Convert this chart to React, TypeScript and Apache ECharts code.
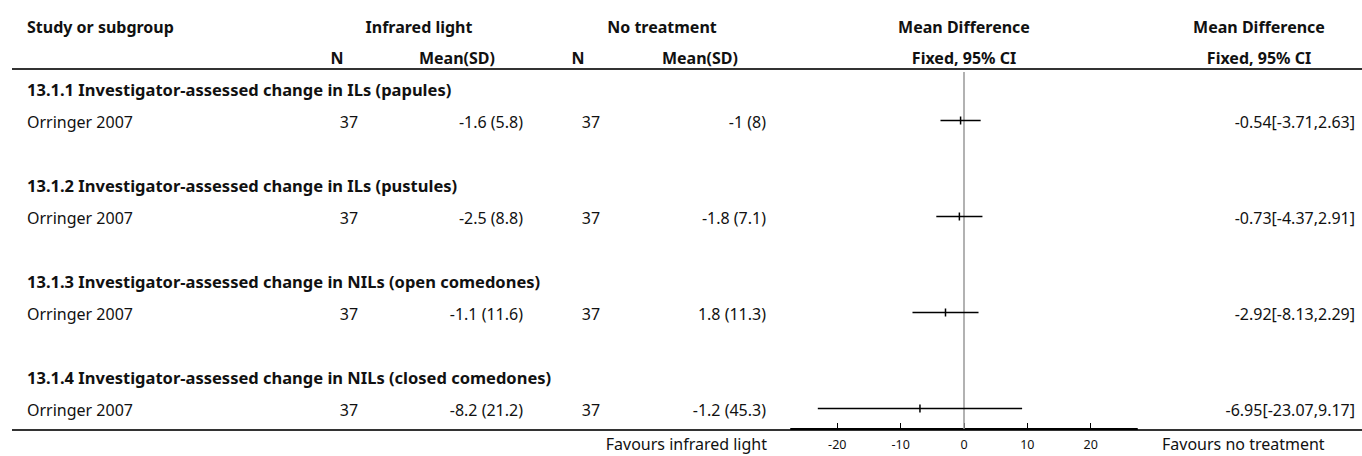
import React, { useEffect, useRef } from "react";
import * as echarts from "echarts";

// Forest plot: infrared light vs no treatment, mean difference (fixed, 95% CI)
const subgroups = [
  "13.1.1 Investigator-assessed change in ILs (papules)",
  "13.1.2 Investigator-assessed change in ILs (pustules)",
  "13.1.3 Investigator-assessed change in NILs (open comedones)",
  "13.1.4 Investigator-assessed change in NILs (closed comedones)",
];
const studies = ["Orringer 2007", "Orringer 2007", "Orringer 2007", "Orringer 2007"];
const irN = [37, 37, 37, 37];
const irMean = [-1.6, -2.5, -1.1, -8.2];
const irSD = [5.8, 8.8, 11.6, 21.2];
const ntN = [37, 37, 37, 37];
const ntMean = [-1, -1.8, 1.8, -1.2];
const ntSD = [8, 7.1, 11.3, 45.3];
const meanDiff = [-0.54, -0.73, -2.92, -6.95];
const ciLow = [-3.71, -4.37, -8.13, -23.07];
const ciHigh = [2.63, 2.91, 2.29, 9.17];
const axisTicks = [-20, -10, 0, 10, 20];
const leftFavour = "Favours infrared light";
const rightFavour = "Favours no treatment";

const FONT = "'Noto Sans', 'DejaVu Sans', sans-serif";
const FS = 16;
const FS_BOLD = 16;
const FS_GROUP = 16.5;
const INK = "#111";

// column anchors (px)
const COL = {
  study: 27,
  irN: 349,
  irMean: 523,
  ntN: 591,
  ntMean: 766,
  effect: 1355,
};

const fmtMeanSD = (m: number, s: number) => `${m} (${s})`;
const fmtEffect = (m: number, l: number, h: number) =>
  `${m.toFixed(2)}[${l.toFixed(2)},${h.toFixed(2)}]`;

function headerText(text: string, x: number, y: number, align: string, bold = true) {
  return {
    type: "text",
    x,
    y,
    silent: true,
    style: {
      text,
      align,
      verticalAlign: "middle",
      fontFamily: FONT,
      fontSize: bold ? FS_BOLD : FS,
      fontWeight: bold ? "bold" : "normal",
      fill: INK,
    },
  };
}

export default function App() {
  const ref = useRef<HTMLDivElement>(null);

  useEffect(() => {
    if (!ref.current) return;
    const chart = echarts.init(ref.current, undefined, { renderer: "svg" });

    const studyData = studies.map((_, i) => [ciLow[i], ciHigh[i], meanDiff[i], 3 * i + 1]);
    const groupData = subgroups.map((_, i) => [0, 3 * i]);

    const option: any = {
      animation: false,
      backgroundColor: "#fff",
      grid: { left: 791, width: 346, top: 72, height: 357, containLabel: false },
      xAxis: {
        type: "value",
        position: "bottom",
        min: -27.3,
        max: 27.3,
        axisLine: { show: true, onZero: false, lineStyle: { color: "#000", width: 2 } },
        axisTick: {
          show: true,
          inside: true,
          length: 6,
          customValues: axisTicks,
          lineStyle: { color: "#000", width: 1 },
        },
        axisLabel: {
          show: true,
          customValues: axisTicks,
          margin: 9,
          fontFamily: FONT,
          fontSize: 12.5,
          color: INK,
        },
        splitLine: { show: false },
      },
      yAxis: {
        type: "value",
        inverse: true,
        min: -0.5625,
        max: 10.594,
        show: false,
      },
      graphic: [
        { type: "line", shape: { x1: 12, y1: 69, x2: 1362, y2: 69 }, style: { stroke: "#333", lineWidth: 2 }, silent: true },
        { type: "line", shape: { x1: 12, y1: 430, x2: 1362, y2: 430 }, style: { stroke: "#333", lineWidth: 2 }, silent: true, z: -1 },
        headerText("Study or subgroup", 27, 27, "left"),
        headerText("Infrared light", 419, 27, "center"),
        headerText("No treatment", 662, 27, "center"),
        headerText("Mean Difference", 964, 27, "center"),
        headerText("Mean Difference", 1259, 27, "center"),
        headerText("N", 337, 58, "center"),
        headerText("Mean(SD)", 495, 58, "right"),
        headerText("N", 578, 58, "center"),
        headerText("Mean(SD)", 738, 58, "right"),
        headerText("Fixed, 95% CI", 964, 58, "center"),
        headerText("Fixed, 95% CI", 1259, 58, "center"),
        headerText(leftFavour, 767, 444, "right", false),
        headerText(rightFavour, 1162, 444, "left", false),
      ],
      series: [
        {
          type: "custom",
          name: "subgroups",
          clip: false,
          data: groupData,
          encode: { x: 0, y: 1 },
          renderItem: (params: any, api: any) => {
            const p = api.coord([0, api.value(1)]);
            return {
              type: "text",
              x: COL.study,
              y: p[1],
              style: {
                text: subgroups[params.dataIndex],
                align: "left",
                verticalAlign: "middle",
                fontFamily: FONT,
                fontSize: FS_GROUP,
                fontWeight: "bold",
                fill: INK,
              },
            };
          },
        },
        {
          type: "custom",
          name: "studies",
          clip: false,
          data: studyData,
          encode: { x: [0, 1, 2], y: 3 },
          renderItem: (params: any, api: any) => {
            const i = params.dataIndex;
            const row = api.value(3);
            const lo = api.coord([api.value(0), row]);
            const hi = api.coord([api.value(1), row]);
            const pt = api.coord([api.value(2), row]);
            const y = pt[1] - 1.5;
            const ty = pt[1] + 0.5;
            const txt = (x: number, text: string, align: string) => ({
              type: "text",
              x,
              y: ty,
              style: {
                text,
                align,
                verticalAlign: "middle",
                fontFamily: FONT,
                fontSize: FS,
                fill: INK,
              },
            });
            return {
              type: "group",
              children: [
                {
                  type: "line",
                  shape: { x1: lo[0], y1: y, x2: hi[0], y2: y },
                  style: { stroke: "#000", lineWidth: 1.5 },
                },
                {
                  type: "line",
                  shape: { x1: pt[0], y1: y - 4, x2: pt[0], y2: y + 4 },
                  style: { stroke: "#000", lineWidth: 1.5 },
                },
                txt(COL.study, studies[i], "left"),
                txt(COL.irN, String(irN[i]), "center"),
                txt(COL.irMean, fmtMeanSD(irMean[i], irSD[i]), "right"),
                txt(COL.ntN, String(ntN[i]), "center"),
                txt(COL.ntMean, fmtMeanSD(ntMean[i], ntSD[i]), "right"),
                txt(COL.effect, fmtEffect(meanDiff[i], ciLow[i], ciHigh[i]), "right"),
              ],
            };
          },
          markLine: {
            silent: true,
            symbol: "none",
            label: { show: false },
            lineStyle: { color: "#999", width: 1.5, type: "solid" },
            data: [{ xAxis: 0 }],
            z: 1,
          },
          z: 3,
        },
      ],
    };

    chart.setOption(option);
    return () => chart.dispose();
  }, []);

  return (
    <div
      ref={ref}
      style={{ position: "fixed", left: 0, top: 0, width: 1362, height: 456, background: "#fff" }}
    />
  );
}
